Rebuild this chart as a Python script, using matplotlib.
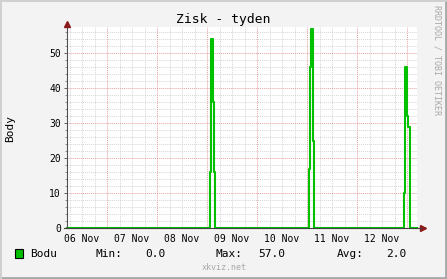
import numpy as np
import matplotlib
matplotlib.use('Agg')
import matplotlib.pyplot as plt
from matplotlib.lines import Line2D
from matplotlib.patches import Rectangle

# hours since 06 Nov 00:00, value held until next sample (rrdtool step line)
hours = [4.8, 73.5, 74.0, 74.5, 75.0, 75.5, 76.0,
         121.0, 121.5, 122.0, 122.5, 123.0, 123.5,
         166.5, 167.0, 167.5, 168.0, 168.5, 169.0, 169.5, 172.8]
body = [0, 16, 54, 54, 36, 16, 0,
        17, 46, 57, 57, 25, 0,
        10, 46, 46, 32, 29, 29, 0, 0]

day_labels = ['06 Nov', '07 Nov', '08 Nov', '09 Nov', '10 Nov', '11 Nov', '12 Nov']
y_ticks = [0, 10, 20, 30, 40, 50]
stats = {'Min:': '0.0', 'Max:': '57.0', 'Avg:': '2.0'}

W, H = 447, 279
mono = 'DejaVu Sans Mono'
bg = '#f3f3f3'

def fx(x):
    return x / W

def fy(y):
    return 1 - y / H

fig = plt.figure(figsize=(W / 100, H / 100), dpi=100, facecolor=bg)
ax = fig.add_axes([fx(67), fy(228), fx(417) - fx(67), fy(27) - fy(228)])
ax.set_facecolor('white')
x0, x1 = 4.8, 172.8
ax.set_xlim(x0, x1)
ax.set_ylim(0, (228 - 27) / 3.5)
for s in ax.spines.values():
    s.set_visible(False)

# grid
dot = (0, (1, 1))
for h in np.arange(6, x1, 6):
    if h % 24 == 0:
        continue
    ax.axvline(h, color='#d6d6d6', lw=0.7, ls=dot, zorder=0)
for v in np.arange(2, 58, 2):
    if v % 10 == 0:
        continue
    ax.axhline(v, color='#d6d6d6', lw=0.7, ls=dot, zorder=0)
for h in np.arange(24, x1, 24):
    ax.axvline(h, color='#e8a0a0', lw=0.7, ls=dot, zorder=1)
for v in y_ticks[1:]:
    ax.axhline(v, color='#e8a0a0', lw=0.7, ls=dot, zorder=1)

ax.step(hours, body, where='post', color='#00c000', lw=1.5, zorder=3, clip_on=False)

ax.set_xticks([12 + 24 * i for i in range(len(day_labels))])
ax.set_xticklabels(day_labels, fontfamily=mono, fontsize=7)
ax.set_yticks(y_ticks)
ax.set_yticklabels([str(v) for v in y_ticks], fontfamily=mono, fontsize=7)
ax.tick_params(axis='x', length=0, pad=4)
ax.tick_params(axis='y', length=2.5, width=0.7, color='#606060', pad=2)
ax.set_yticks(np.arange(0, 58, 2), minor=True)
ax.tick_params(axis='y', which='minor', length=1.5, width=0.7, color='#909090')

# axes lines with arrows
fig.add_artist(Line2D([fx(67), fx(67)], [fy(228), fy(25)], color='#505050', lw=0.8))
fig.add_artist(Line2D([fx(64), fx(421)], [fy(228), fy(228)], color='#404040', lw=0.8, zorder=5))
fig.add_artist(Line2D([fx(67)], [fy(24)], marker='^', color='#8b1a1a', markersize=4, lw=0))
fig.add_artist(Line2D([fx(423)], [fy(228)], marker='>', color='#8b1a1a', markersize=4, lw=0))

fig.text(fx(223), fy(19), 'Zisk - tyden', ha='center', va='center', fontfamily=mono, fontsize=9.4)
fig.text(fx(10), fy(128), 'Body', ha='center', va='center', rotation=90, fontfamily=mono, fontsize=8)
fig.text(fx(437), fy(60), 'RRDTOOL / TOBI OETIKER', ha='center', va='center', rotation=270,
         fontfamily=mono, fontsize=6, color='#a8a8a8')
fig.text(fx(224), fy(268), 'xkviz.net', ha='center', va='center', fontfamily=mono, fontsize=6, color='#a8a8a8')

# legend
fig.add_artist(Rectangle((fx(15), fy(258)), fx(8), fy(249) - fy(258), facecolor='#00c000',
                         edgecolor='black', lw=0.8))
ly = fy(254)
fig.text(fx(30), ly, 'Bodu', va='center', fontfamily=mono, fontsize=8)
lab_x = [95, 216, 337]
val_x = [165, 285, 406]
for (lab, val), lx, vx in zip(stats.items(), lab_x, val_x):
    fig.text(fx(lx), ly, lab, va='center', fontfamily=mono, fontsize=8)
    fig.text(fx(vx), ly, val, va='center', ha='right', fontfamily=mono, fontsize=8)

# frame
fig.add_artist(Line2D([0, 1], [fy(277.5), fy(277.5)], color='#a8a8a8', lw=2))
fig.add_artist(Line2D([fx(445.5), fx(445.5)], [0, 1], color='#a8a8a8', lw=2))
fig.add_artist(Line2D([fx(0.5), fx(0.5)], [0, 1], color='#d0d0d0', lw=1.4))
fig.add_artist(Line2D([0, 1], [fy(0.5), fy(0.5)], color='#d0d0d0', lw=1.4))

fig.savefig('out.png', dpi=100, facecolor=bg)
